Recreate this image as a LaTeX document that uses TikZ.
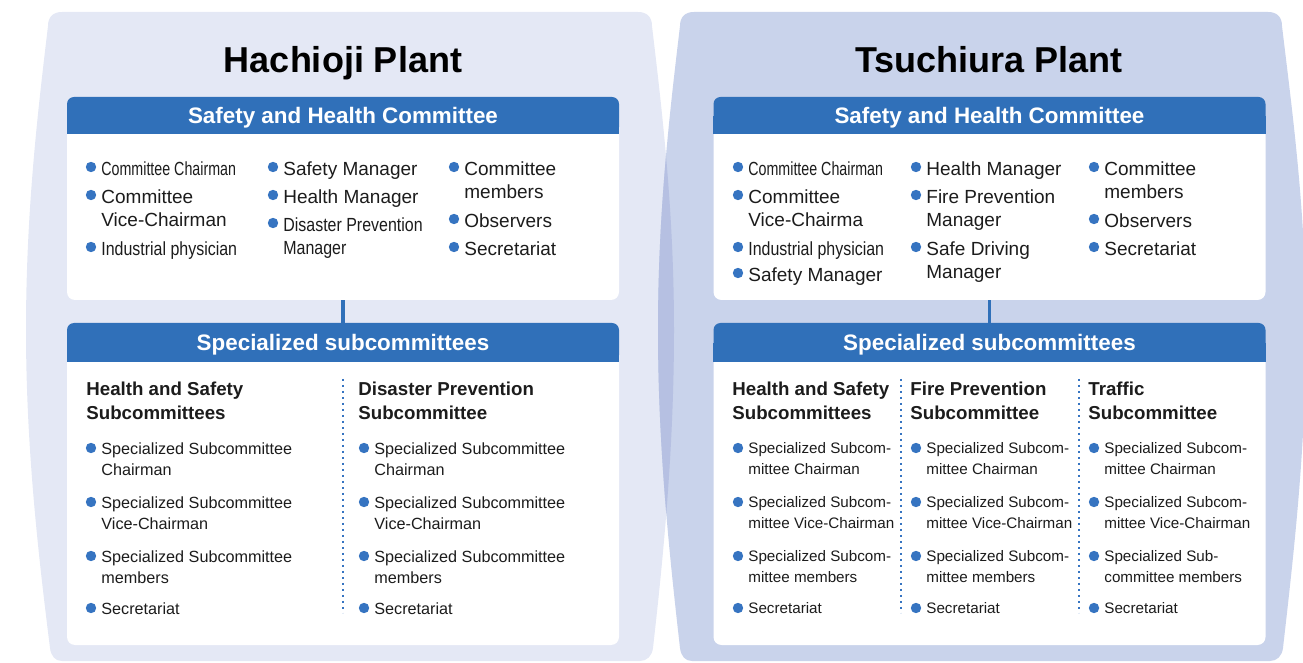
\documentclass[tikz,border=0pt]{standalone}
\usepackage{fontspec}
\setmainfont{Liberation Sans}
\newfontfamily\narrowfont{Liberation Sans}[FakeStretch=0.75]
\newfontfamily\semifont{Liberation Sans}[FakeStretch=0.84]

\definecolor{hachiojibg}{HTML}{E4E8F5}
\definecolor{tsuchiurabg}{HTML}{C9D3EB}
\definecolor{overlapbg}{HTML}{B6C0E2}
\definecolor{hdrblue}{HTML}{3070B9}
\definecolor{dotblue}{HTML}{3674C1}
\definecolor{ink}{HTML}{1C1C1C}

% outlines of the two plant panels (pixel grid)
\newcommand\hachiojiOutline{(48,26) .. controls (48,17) and (53,12) .. (62,12) -- (638,12) .. controls (647,12) and (652,17) .. (652,26) .. controls (662,110) and (674,210) .. (674,330) .. controls (674,450) and (663,560) .. (653,648) .. controls (652,656) and (647,661) .. (640,661) -- (62,661) .. controls (55,661) and (51,656) .. (50,648) .. controls (39,560) and (26,450) .. (26,330) .. controls (26,210) and (38,110) .. (48,26) -- cycle}
\newcommand\tsuchiuraOutline{(680,26) .. controls (680,17) and (685,12) .. (694,12) -- (1268,12) .. controls (1277,12) and (1282,17) .. (1282,26) .. controls (1292,110) and (1306,210) .. (1306,330) .. controls (1306,450) and (1293,560) .. (1283,648) .. controls (1282,656) and (1277,661) .. (1270,661) -- (692,661) .. controls (685,661) and (681,656) .. (680,648) .. controls (670,560) and (658,450) .. (658,330) .. controls (658,210) and (670,110) .. (680,26) -- cycle}

% bulleted entry: [style]{name}{x}{y}{text}
\newcommand\member[5][member]{%
  \node[#1] (#2) at (#3,#4) {#5};
  \fill[dotblue] ([xshift=-5pt,yshift=-3pt]#2.north west) circle (2.6pt);
}

\begin{document}
\begin{tikzpicture}[x=0.5pt, y=-0.5pt,
    every node/.append style={text=ink},
    title/.style={anchor=base, text=black, font=\bfseries\fontsize{18}{20}\selectfont},
    hdr/.style={fill=hdrblue, rounded corners=3.5pt, text=white, minimum width=276pt,
      inner sep=0pt, text height=8pt, text depth=0pt, font=\bfseries\fontsize{11.2}{13}\selectfont},
    panel/.style={fill=white, rounded corners=4pt, minimum width=276pt, inner sep=0pt},
    member/.style={anchor=north west, align=left, inner sep=0pt, font=\fontsize{9.5}{11.5}\selectfont},
    submember/.style={member, font=\fontsize{8.1}{10.5}\selectfont},
    rsubmember/.style={member, font=\fontsize{7.6}{10.5}\selectfont},
    subhead/.style={member, font=\bfseries\fontsize{9.35}{12}\selectfont},
    link/.style={hdrblue, line width=1.8pt},
    divider/.style={dotblue, line width=1.2pt, dash pattern=on 1.2pt off 1.8pt}]
    \useasboundingbox (0,0) rectangle (1303,663);
    \clip (0,0) rectangle (1303,663);

    % plant panels
    \fill[hachiojibg] \hachiojiOutline;
    \fill[tsuchiurabg] \tsuchiuraOutline;
    \begin{scope}
        \clip \hachiojiOutline;
        \fill[overlapbg] \tsuchiuraOutline;
    \end{scope}

    % Hachioji Plant
    \node[title] (hTitle) at (343,73) {Hachioji Plant};
    \node[panel, minimum height=95pt] (hShcBody) at (343,205) {};
    \fill[hdrblue] (67,116) rectangle (619,134);
    \node[hdr, minimum height=18.5pt] (hShc) at (343,115.5) {Safety and Health Committee};
    \node[panel, minimum height=152.5pt] (hSubBody) at (343,492.5) {};
    \fill[hdrblue] (67,343) rectangle (619,362);
    \node[hdr, minimum height=19.5pt] (hSub) at (343,342.5) {Specialized subcommittees};
    \draw[link] (hShcBody.south) -- (hSub.north);

    \member{hCA}{101}{161}{\narrowfont Committee Chairman}
    \member{hCB}{101}{189}{Committee\\Vice-Chairman}
    \member{hCC}{101}{241}{\semifont Industrial physician}
    \member{hMA}{283}{161}{Safety Manager}
    \member{hMB}{283}{189}{Health Manager}
    \member{hMC}{283}{217}{\semifont Disaster Prevention\\\semifont Manager}
    \member{hOA}{464}{161}{Committee\\members}
    \member{hOB}{464}{213}{Observers}
    \member{hOC}{464}{241}{Secretariat}

    \node[subhead] (hHS) at (86,382) {Health and Safety\\Subcommittees};
    \member[submember]{hHSa}{101}{442}{Specialized Subcommittee\\Chairman}
    \member[submember]{hHSb}{101}{496}{Specialized Subcommittee\\Vice-Chairman}
    \member[submember]{hHSc}{101}{550}{Specialized Subcommittee\\members}
    \member[submember]{hHSd}{101}{602}{Secretariat}
    \draw[divider] (343,379) -- (343,613);
    \node[subhead] (hDP) at (358,382) {Disaster Prevention\\Subcommittee};
    \member[submember]{hDPa}{374}{442}{Specialized Subcommittee\\Chairman}
    \member[submember]{hDPb}{374}{496}{Specialized Subcommittee\\Vice-Chairman}
    \member[submember]{hDPc}{374}{550}{Specialized Subcommittee\\members}
    \member[submember]{hDPd}{374}{602}{Secretariat}

    % Tsuchiura Plant
    \node[title] (tTitle) at (989,73) {Tsuchiura Plant};
    \node[panel, minimum height=95pt] (tShcBody) at (989.5,205) {};
    \fill[hdrblue] (713,116) rectangle (1266,134);
    \node[hdr, minimum height=18.5pt] (tShc) at (989.5,115.5) {Safety and Health Committee};
    \node[panel, minimum height=152.5pt] (tSubBody) at (989.5,492.5) {};
    \fill[hdrblue] (713,343) rectangle (1266,362);
    \node[hdr, minimum height=19.5pt] (tSub) at (989.5,342.5) {Specialized subcommittees};
    \draw[link] (tShcBody.south) -- (tSub.north);

    \member{tCA}{748}{161}{\narrowfont Committee Chairman}
    \member{tCB}{748}{189}{Committee\\Vice-Chairma}
    \member{tCC}{748}{241}{\semifont Industrial physician}
    \member{tCD}{748}{267}{Safety Manager}
    \member{tMA}{926}{161}{Health Manager}
    \member{tMB}{926}{189}{Fire Prevention\\Manager}
    \member{tMC}{926}{241}{Safe Driving\\Manager}
    \member{tOA}{1104}{161}{Committee\\members}
    \member{tOB}{1104}{213}{Observers}
    \member{tOC}{1104}{241}{Secretariat}

    \node[subhead] (tHS) at (732,382) {Health and Safety\\Subcommittees};
    \member[rsubmember]{tHSa}{748}{442}{Specialized Subcom-\\mittee Chairman}
    \member[rsubmember]{tHSb}{748}{496}{Specialized Subcom-\\mittee Vice-Chairman}
    \member[rsubmember]{tHSc}{748}{550}{Specialized Subcom-\\mittee members}
    \member[rsubmember]{tHSd}{748}{602}{Secretariat}
    \draw[divider] (901,379) -- (901,613);
    \node[subhead] (tFP) at (910,382) {Fire Prevention\\Subcommittee};
    \member[rsubmember]{tFPa}{926}{442}{Specialized Subcom-\\mittee Chairman}
    \member[rsubmember]{tFPb}{926}{496}{Specialized Subcom-\\mittee Vice-Chairman}
    \member[rsubmember]{tFPc}{926}{550}{Specialized Subcom-\\mittee members}
    \member[rsubmember]{tFPd}{926}{602}{Secretariat}
    \draw[divider] (1079,379) -- (1079,613);
    \node[subhead] (tTR) at (1088,382) {Traffic\\Subcommittee};
    \member[rsubmember]{tTRa}{1104}{442}{Specialized Subcom-\\mittee Chairman}
    \member[rsubmember]{tTRb}{1104}{496}{Specialized Subcom-\\mittee Vice-Chairman}
    \member[rsubmember]{tTRc}{1104}{550}{Specialized Sub-\\committee members}
    \member[rsubmember]{tTRd}{1104}{602}{Secretariat}
\end{tikzpicture}
\end{document}
